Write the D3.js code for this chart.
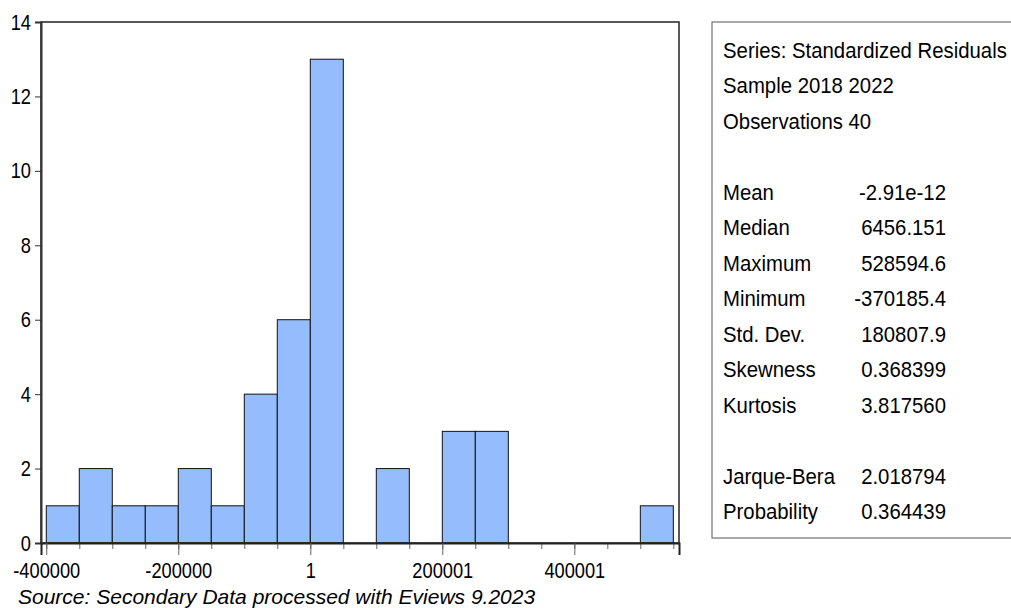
<!DOCTYPE html>
<html>
<head>
<meta charset="utf-8">
<script src="https://cdn.jsdelivr.net/npm/d3@7"></script>
<style>
  body { margin: 0; background: #fff; }
  svg { display: block; font-family: "Liberation Sans", Arial, sans-serif; }
</style>
</head>
<body>
<div id="showBox"></div>
<script>
// histogram bins (width 50000), starting at binStarts[i]
const binStarts = [-400000, -350000, -300000, -250000, -200000, -150000, -100000, -50000, 0,
    50000, 100000, 150000, 200000, 250000, 300000, 350000, 400000, 450000, 500000];
const counts = [1, 2, 1, 1, 2, 1, 4, 6, 13, 0, 2, 0, 3, 3, 0, 0, 0, 0, 1];
const binWidth = 50000;

const xTickValues = [-400000, -200000, 1, 200001, 400001];
const xTickLabels = ["-400000", "-200000", "1", "200001", "400001"];
const yTicks = [0, 2, 4, 6, 8, 10, 12, 14];

const headerLines = ["Series: Standardized Residuals", "Sample 2018 2022", "Observations 40"];
const statNames = ["Mean", "Median", "Maximum", "Minimum", "Std. Dev.", "Skewness", "Kurtosis"];
const statValues = ["-2.91e-12", "6456.151", "528594.6", "-370185.4", "180807.9", "0.368399", "3.817560"];
const testNames = ["Jarque-Bera", "Probability"];
const testValues = ["2.018794", "0.364439"];

const sourceNote = "Source: Secondary Data processed with Eviews 9.2023";

const width = 1011, height = 608;
const plot = {left: 41, top: 22, right: 679, bottom: 543};
const squeeze = 0.83;   // eviews uses a condensed face, fake it

const svg = d3.select("#showBox").append("svg")
    .attr("width", width)
    .attr("height", height);

const x = d3.scaleLinear().domain([-408000, 558600]).range([plot.left, plot.right]);
const y = d3.scaleLinear().domain([0, 14]).range([plot.bottom, plot.top]);

// bars
svg.append("g")
    .selectAll("rect")
    .data(binStarts.map((s, i) => ({start: s, count: counts[i]})).filter(d => d.count > 0))
    .join("rect")
    .attr("x", d => x(d.start))
    .attr("y", d => y(d.count))
    .attr("width", d => x(d.start + binWidth) - x(d.start))
    .attr("height", d => y(0) - y(d.count))
    .attr("fill", "#95bdfd")
    .attr("stroke", "#111")
    .attr("stroke-width", 1);

// frame
svg.append("rect")
    .attr("x", plot.left).attr("y", plot.top)
    .attr("width", plot.right - plot.left).attr("height", plot.bottom - plot.top)
    .attr("fill", "none").attr("stroke", "#222").attr("stroke-width", 1.5);

function squeezeText(sel) {
    sel.each(function () {
        const t = d3.select(this);
        const x0 = +t.attr("x") || 0;
        t.attr("x", x0 / squeeze).attr("transform", `scale(${squeeze},1)`);
    });
}

// y axis
const yAxis = svg.append("g")
    .attr("transform", `translate(${plot.left},0)`)
    .call(d3.axisLeft(y).tickValues(yTicks).tickSize(6).tickPadding(4));
yAxis.select(".domain").attr("stroke", "#333").attr("stroke-width", 2);
yAxis.selectAll(".tick line").attr("stroke", "#333");
yAxis.selectAll("text").attr("font-size", 22).attr("fill", "#000").attr("font-family", null).call(squeezeText);

// x axis: minor ticks at every bin edge, longer ticks at labels
const edges = binStarts.concat([binStarts[binStarts.length - 1] + binWidth]);
const xMinor = svg.append("g")
    .attr("transform", `translate(0,${plot.bottom})`)
    .call(d3.axisBottom(x).tickValues(edges).tickSize(6).tickFormat(""));
xMinor.select(".domain").remove();
xMinor.selectAll(".tick line").attr("stroke", "#666");

const xAxis = svg.append("g")
    .attr("transform", `translate(0,${plot.bottom})`)
    .call(d3.axisBottom(x).tickValues(xTickValues).tickSize(12).tickPadding(7)
        .tickFormat((d, i) => xTickLabels[i]));
xAxis.select(".domain").attr("stroke", "#222").attr("stroke-width", 2);
xAxis.selectAll(".tick line").attr("stroke", "#666");
xAxis.selectAll("text").attr("font-size", 22).attr("fill", "#000").attr("font-family", null).call(squeezeText);

// stats box
const box = {left: 712, top: 22, bottom: 538};
svg.append("rect")
    .attr("x", box.left).attr("y", box.top)
    .attr("width", 400).attr("height", box.bottom - box.top)
    .attr("fill", "none").attr("stroke", "#555").attr("stroke-width", 1);

// line index -> baseline (rows 3 and 11 are blank)
const rowY = d3.scaleLinear().domain([0, 1]).range([58, 93.5]);
const rows = [];
headerLines.forEach((t, i) => rows.push({row: i, label: t}));
statNames.forEach((t, i) => rows.push({row: 4 + i, label: t, value: statValues[i]}));
testNames.forEach((t, i) => rows.push({row: 12 + i, label: t, value: testValues[i]}));

const boxSqueeze = 0.925;
const txt = svg.append("g").attr("font-size", 22).attr("fill", "#000")
    .attr("transform", `scale(${boxSqueeze},1)`);
txt.selectAll("text.lab")
    .data(rows)
    .join("text")
    .attr("class", "lab")
    .attr("x", 723 / boxSqueeze)
    .attr("y", d => rowY(d.row))
    .text(d => d.label);
txt.selectAll("text.val")
    .data(rows.filter(d => d.value))
    .join("text")
    .attr("class", "val")
    .attr("x", 946 / boxSqueeze)
    .attr("y", d => rowY(d.row))
    .attr("text-anchor", "end")
    .text(d => d.value);

// source note
svg.append("text")
    .attr("x", 18).attr("y", 604)
    .attr("font-style", "italic")
    .attr("font-size", 21)
    .text(sourceNote);
</script>
</body>
</html>
